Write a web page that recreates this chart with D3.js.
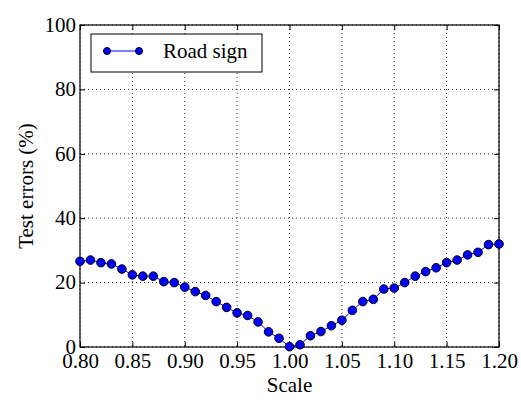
<!DOCTYPE html>
<html>
<head>
<meta charset="utf-8">
<script src="https://cdn.jsdelivr.net/npm/d3@7"></script>
<style>
body{margin:0;background:#fff;}
</style>
</head>
<body>
<svg id="chart" width="521" height="402"></svg>
<script>
// datos
const scales = d3.range(41).map(i => +(0.80 + i * 0.01).toFixed(2))
const errors = [26.6, 27.0, 26.2, 25.8, 24.2, 22.4, 22.0, 22.0, 20.3, 20.0,
  18.6, 17.2, 16.0, 14.1, 12.3, 10.6, 9.8, 7.8, 4.7, 2.7,
  0.1, 0.7, 3.5, 4.8, 6.6, 8.3, 11.4, 14.1, 14.8, 18.0,
  18.3, 20.0, 22.0, 23.4, 24.6, 26.2, 27.0, 28.6, 29.4, 31.8, 32.0]
const xTicks = [0.80, 0.85, 0.90, 0.95, 1.00, 1.05, 1.10, 1.15, 1.20]
const yTicks = [0, 20, 40, 60, 80, 100]
const seriesName = 'Road sign'

const svg = d3.select('#chart')
const m = {left: 80, right: 499, top: 25, bottom: 347}
const font = "'Liberation Serif', 'Times New Roman', serif"
const fs = 21

const x = d3.scaleLinear().domain([0.80, 1.20]).range([m.left, m.right])
const y = d3.scaleLinear().domain([0, 100]).range([m.bottom, m.top])

/*grid punteada*/
const grid = svg.append('g')
grid.selectAll('.gx').data(xTicks).join('line')
  .attr('x1', d => x(d)).attr('x2', d => x(d))
  .attr('y1', m.top).attr('y2', m.bottom)
  .attr('stroke', '#000').attr('stroke-width', 0.8).attr('stroke-dasharray', '1,3')
grid.selectAll('.gy').data(yTicks).join('line')
  .attr('y1', d => y(d)).attr('y2', d => y(d))
  .attr('x1', m.left).attr('x2', m.right)
  .attr('stroke', '#000').attr('stroke-width', 0.8).attr('stroke-dasharray', '1,3')

/*ejes, ticks hacia adentro en los 4 lados*/
svg.append('g').attr('transform', `translate(0,${m.bottom})`)
  .call(d3.axisBottom(x).tickValues(xTicks).tickFormat(d3.format('.2f')).tickSizeInner(-5).tickSizeOuter(0).tickPadding(6))
const ay = svg.append('g').attr('transform', `translate(${m.left},0)`)
  .call(d3.axisLeft(y).tickValues(yTicks).tickSizeInner(-5).tickSizeOuter(0).tickPadding(4))
ay.selectAll('.tick text').attr('dy', '0.3em')
svg.append('g').attr('transform', `translate(0,${m.top})`)
  .call(d3.axisTop(x).tickValues(xTicks).tickFormat('').tickSizeInner(-5).tickSizeOuter(0))
svg.append('g').attr('transform', `translate(${m.right},0)`)
  .call(d3.axisRight(y).tickValues(yTicks).tickFormat('').tickSizeInner(-5).tickSizeOuter(0))
svg.selectAll('.domain').remove()
svg.selectAll('.tick line').attr('stroke', '#000').attr('stroke-width', 1)

/*marco*/
svg.append('rect')
  .attr('x', m.left).attr('y', m.top)
  .attr('width', m.right - m.left).attr('height', m.bottom - m.top)
  .attr('fill', 'none').attr('stroke', '#000').attr('stroke-width', 1.2)

/*linea y puntos*/
const pts = scales.map((s, i) => [s, errors[i]])
svg.append('path').datum(pts)
  .attr('d', d3.line().x(d => x(d[0])).y(d => y(d[1])))
  .attr('fill', 'none').attr('stroke', '#0000ff').attr('stroke-width', 1)
svg.append('g').selectAll('circle').data(pts).join('circle')
  .attr('cx', d => x(d[0])).attr('cy', d => y(d[1])).attr('r', 4.3)
  .attr('fill', '#0000ff').attr('stroke', '#000').attr('stroke-width', 1)

/*etiquetas de ejes*/
svg.append('text').attr('x', (m.left + m.right) / 2).attr('y', 392)
  .attr('text-anchor', 'middle').text('Scale')
svg.append('text').attr('transform', `translate(33,${(m.top + m.bottom) / 2}) rotate(-90)`)
  .attr('text-anchor', 'middle').text('Test errors (%)')

/*leyenda*/
const lg = svg.append('g')
lg.append('rect').attr('x', 91).attr('y', 34).attr('width', 171).attr('height', 38)
  .attr('fill', '#fff').attr('stroke', '#000').attr('stroke-width', 1)
lg.append('line').attr('x1', 107).attr('x2', 139).attr('y1', 51).attr('y2', 51)
  .attr('stroke', '#0000ff').attr('stroke-width', 1)
lg.selectAll('circle').data([107, 139]).join('circle')
  .attr('cx', d => d).attr('cy', 51).attr('r', 3.5)
  .attr('fill', '#0000ff').attr('stroke', '#000').attr('stroke-width', 1)
lg.append('text').attr('x', 163).attr('y', 58).text(seriesName)

/*fuente serif en todos los textos*/
svg.selectAll('g').attr('font-family', null).attr('font-size', null)
svg.selectAll('text')
  .style('font-family', font)
  .style('font-size', fs + 'px')
  .style('fill', '#000')
</script>
</body>
</html>
